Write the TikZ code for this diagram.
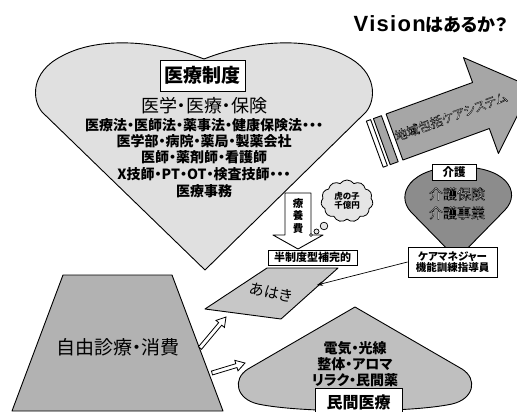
\documentclass[tikz,border=0pt]{standalone}
\usepackage{fontspec}
\setmainfont{Noto Sans CJK JP}[RawFeature=+palt]
\newfontfamily\outlfont{Noto Sans CJK JP}[FakeBold=3,RawFeature=+palt]
\newfontfamily\libsans{Liberation Sans}[LetterSpace=6]
\usetikzlibrary{shapes.symbols,arrows.meta,calc}
\newcommand\fsz[1]{\fontsize{#1}{#1}\selectfont}
\newcommand\otxt[1]{\special{pdf:bcolor [1] [0]}#1\special{pdf:ecolor}}
\newcommand\hollowarr[2]{%
  \coordinate (ha) at ($(#2)!9pt!(#1)$);
  \draw[hollow] ($(#1)!2pt!90:(#2)$) -- ($(ha)!2pt!90:(#2)$) -- ($(ha)!5.5pt!90:(#2)$) -- (#2)
    -- ($(ha)!5.5pt!-90:(#2)$) -- ($(ha)!2pt!-90:(#2)$) -- ($(#1)!2pt!-90:(#2)$) -- cycle;}
\begin{document}
\begin{tikzpicture}[x=1pt,y=-1pt,
  shp/.style={draw=black, line width=0.9pt, line join=round},
  box/.style={draw=black, fill=white, line width=0.9pt, inner sep=0pt},
  hollow/.style={draw=black, fill=white, line width=0.8pt, line join=miter},
  otext/.style={font=\outlfont\fsz{#1}},
  txt/.style={font=\bfseries\fsz{#1}}]
\useasboundingbox (0,0) rectangle (517,412);
\fill[white] (0,0) rectangle (517,412);

% title
\node (title) at (431,24) {{\libsans\bfseries\fsz{22}Vision}{\bfseries\fsz{18}はあるか？}};

% heart
\draw[shp, fill=black!12] (205,270) -- (42,112) .. controls (32,100) and (30,72) .. (62,56)
  .. controls (95,38) and (150,38) .. (204,59) .. controls (258,38) and (313,38) .. (346,56)
  .. controls (378,72) and (376,100) .. (366,112) -- cycle;
\node[box, txt=19, minimum width=85, minimum height=31] (seido) at (202.5,75.5) {医療制度};
\node[font=\fsz{18}] (igaku) at (204,106) {医学・医療・保険};
\node[txt=14] (l1) at (204,125) {医療法・医師法・薬事法・健康保険法・・・};
\node[txt=14] (l2) at (204,141) {医学部・病院・薬局・製薬会社};
\node[txt=14] (l3) at (204,157) {医師・薬剤師・看護師};
\node[txt=14] (l4) at (204,174) {X技師・PT・OT・検査技師・・・};
\node[txt=14] (l5) at (204,191) {医療事務};

% big arrow with stripes
\begin{scope}[shift={(394.5,137)}, rotate=20]
  \draw[shp, fill=white] (-21,-24.5) -- (-16.5,-24.5) -- (-16.5,24.5) -- (-21,24.5) -- cycle;
  \draw[shp, fill=black!35] (-13.5,-24.5) -- (-5,-24.5) -- (-5,24.5) -- (-13.5,24.5) -- cycle;
  \draw[shp, fill=black!35] (0,-24.5) -- (92,-24.5) -- (92,-51) -- (146,0) -- (92,51) -- (92,24.5) -- (0,24.5) -- cycle;
  \node[otext=12.5, rotate=20] (chiiki) at (60,0) {\otxt{地域包括ケアシステム}};
\end{scope}

% kaigo
\draw[shp, fill=black!45] (457,259) -- (411,212) .. controls (395,195) and (410,167) .. (458,167)
  .. controls (506,166) and (522,192) .. (505,210) -- cycle;
\node[box, txt=11.5, minimum width=44, minimum height=16] (kaigo) at (454,172) {介護};
\node[otext=14] (khoken) at (457,194) {\otxt{介護保険}};
\node[otext=14] (kjigyo) at (457,213) {\otxt{介護事業}};
\node[box, txt=10.5, minimum width=89, minimum height=30, align=center] (cm) at (452.5,262)
  {ケアマネジャー\\[1pt]機能訓練指導員};

% ryouyouhi arrow
\draw[shp, fill=white] (285,193) -- (311,193) -- (311,235) -- (323,235) -- (298,249) -- (273,235) -- (285,235) -- cycle;
\node[txt=10.5, align=center, inner sep=0] (ryo) at (298,216) {療\\[2pt]養\\[2pt]費};

% cloud
\node[cloud, cloud puffs=11, cloud puff arc=110, aspect=1.3, draw, line width=0.8pt, fill=black!10,
  minimum width=52, minimum height=42, inner sep=0, align=center, txt=8.5] (cloud) at (347,201) {虎の子\\千億円};
\draw[line width=0.7pt, fill=black!10] (324,226) circle (3.8);
\draw[line width=0.7pt, fill=black!10] (316.5,231.5) circle (2.5);
\draw[line width=0.7pt, fill=black!10] (311,235) circle (1.5);

% han-seido box and ahaki
\node[box, txt=11, minimum width=89, minimum height=15] (han) at (312.5,257.5) {半制度型補完的};
\draw[shp, fill=black!22] (205,309) -- (267,268) -- (338,268) -- (281,319) -- cycle;
\node[font=\fsz{15}, rotate=-12] (ahaki) at (271,292) {あはき};
\coordinate (ahakiR) at (317,285);
\draw[line width=0.7pt, -{Stealth[length=6pt,width=4.5pt]}] (cm.west) -- (ahakiR);

% free medical trapezoid
\draw[shp, fill=black!30] (63,275) -- (172,275) -- (223,411) -- (12,411) -- cycle;
\node[font=\fsz{19}] (jiyu) at (118,347) {自由診療・消費};

% minkan shape
\draw[shp, fill=black!25] (355,307) -- (248,369) .. controls (232,379) and (236,399) .. (258,404)
  .. controls (300,413) and (410,413) .. (452,404) .. controls (474,399) and (478,379) .. (462,369) -- cycle;
\node[txt=14] (m1) at (355,348) {電気・光線};
\node[txt=14] (m2) at (355,364) {整体・アロマ};
\node[txt=14] (m3) at (355,380) {リラク・民間薬};
\node[box, txt=16, minimum width=87, minimum height=27, anchor=north] (minkan) at (358.5,388) {民間医療};

% hollow arrows
\coordinate (t1) at (200,348);
\coordinate (a1) at (226,317);
\coordinate (t2) at (212,373);
\coordinate (a2) at (245,363);
\hollowarr{t1}{a1}
\hollowarr{t2}{a2}
\end{tikzpicture}
\end{document}
